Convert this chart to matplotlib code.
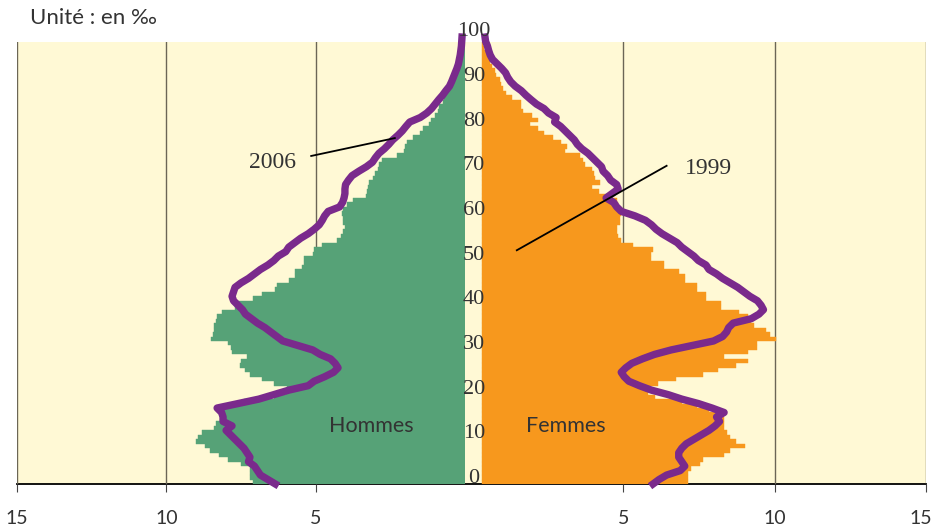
import matplotlib
matplotlib.use('Agg')
import matplotlib.pyplot as plt
import matplotlib.transforms as mtransforms
import numpy as np

# ── Palette ───────────────────────────────────────────────────────────────
C_BG     = '#fff9d5'
C_MEN    = '#56a277'
C_WOMEN  = '#f7981d'
C_1999   = '#7a2a8c'
C_GRID   = '#6b6656'
C_TEXT   = '#333333'

SANS  = ['Lato', 'DejaVu Sans']
SERIF = ['Liberation Serif', 'DejaVu Serif']

# ── Data: pyramide des âges, en ‰ de la population ────────────────────────
ages_bar  = np.arange(100)        # classes d'âge des barres (2006)
ages_line = np.arange(101)        # points des courbes (1999)
age_ticks = [0, 10, 20, 30, 40, 50, 60, 70, 80, 90, 100]
x_ticks_men   = [15, 10, 5]
x_ticks_women = [5, 10, 15]

men_2006 = [
    7.1, 7.2, 7.2, 7.2, 7.5, 7.95, 8.25, 8.55, 8.7, 9.0,
    8.95, 8.8, 8.4, 8.35, 8.2, 8.2, 8.2, 8.1, 7.4, 6.4,
    6.0, 5.95, 6.4, 6.8, 7.2, 7.35, 7.55, 7.5, 7.3, 7.8,
    7.85, 7.95, 8.5, 8.45, 8.4, 8.4, 8.35, 8.3, 8.15, 7.7,
    7.6, 7.1, 6.8, 6.35, 6.3, 5.9, 5.7, 5.7, 5.45, 5.4,
    5.4, 5.1, 5.05, 4.8, 4.3, 4.15, 4.1, 4.02, 4.07, 4.07,
    4.13, 4.1, 3.96, 3.74, 3.3, 3.28, 3.24, 3.22, 3.07, 3.0,
    2.9, 2.88, 2.79, 2.29, 2.05, 2.0, 1.95, 1.75, 1.5, 1.42,
    1.2, 1.15, 1.0, 0.9, 0.87, 0.75, 0.7, 0.6, 0.52, 0.48,
    0.38, 0.33, 0.25, 0.22, 0.15, 0.11, 0.06, 0.04, 0.02, 0.01,
]

women_2006 = [
    6.8, 6.8, 6.8, 6.9, 7.2, 7.3, 8.0, 8.2, 8.7, 8.4,
    8.2, 8.1, 8.0, 8.0, 8.0, 7.8, 7.5, 7.1, 6.6, 5.7,
    5.5, 5.5, 5.8, 6.4, 7.3, 7.8, 8.4, 8.8, 8.0, 8.8,
    9.1, 9.1, 9.7, 9.5, 9.4, 9.0, 8.9, 8.8, 8.5, 7.9,
    7.9, 7.4, 7.4, 7.1, 7.1, 6.7, 6.7, 6.5, 6.0, 6.0,
    5.6, 5.6, 5.65, 5.0, 4.6, 4.5, 4.45, 4.45, 4.55, 4.55,
    4.6, 4.6, 4.5, 4.45, 4.2, 3.85, 3.65, 3.9, 3.75, 3.7,
    3.62, 3.4, 3.35, 3.24, 2.75, 2.8, 2.6, 2.35, 2.05, 1.85,
    1.6, 1.86, 1.65, 1.35, 1.3, 1.3, 0.98, 0.8, 0.68, 0.63,
    0.58, 0.45, 0.42, 0.32, 0.27, 0.24, 0.15, 0.05, 0.02, 0.01,
]

men_1999 = [
    6.35, 6.6, 6.85, 6.95, 7.05, 7.25, 7.2, 7.3, 7.4, 7.55,
    7.7, 7.85, 8.0, 7.8, 8.1, 8.1, 8.15, 8.3, 7.6, 6.9,
    6.4, 5.9, 5.25, 5.05, 4.7, 4.4, 4.25, 4.35, 4.5, 4.85,
    5.1, 5.6, 6.1, 6.3, 6.5, 6.7, 6.95, 7.15, 7.35, 7.45,
    7.6, 7.75, 7.8, 7.75, 7.7, 7.5, 7.25, 7.05, 6.85, 6.6,
    6.4, 6.25, 6.0, 5.9, 5.7, 5.5, 5.25, 5.05, 4.88, 4.78,
    4.7, 4.58, 4.2, 4.1, 4.05, 4.02, 4.02, 4.0, 3.9, 3.78,
    3.55, 3.3, 3.1, 3.0, 2.88, 2.7, 2.55, 2.42, 2.25, 2.1,
    1.98, 1.85, 1.5, 1.28, 1.12, 1.0, 0.88, 0.75, 0.64, 0.52,
    0.45, 0.39, 0.33, 0.27, 0.22, 0.19, 0.16, 0.14, 0.12, 0.11, 0.1,
]

women_1999 = [
    5.65, 5.85, 6.1, 6.55, 6.7, 6.6, 6.5, 6.5, 6.6, 6.75,
    7.0, 7.25, 7.5, 7.7, 7.85, 7.75, 8.0, 7.6, 7.15, 6.6,
    6.15, 5.6, 5.2, 4.85, 4.7, 4.6, 4.75, 4.95, 5.3, 5.7,
    6.25, 6.95, 7.65, 7.95, 8.08, 8.15, 8.3, 8.9, 9.15, 9.3,
    9.22, 9.1, 8.85, 8.65, 8.45, 8.2, 7.95, 7.75, 7.5, 7.4,
    7.15, 7.0, 6.8, 6.6, 6.45, 6.2, 5.95, 5.75, 5.6, 5.4,
    5.05, 4.6, 4.45, 4.35, 4.1, 4.3, 4.5, 4.45, 4.25, 4.15,
    4.0, 3.95, 3.8, 3.65, 3.5, 3.3, 3.15, 3.05, 2.9, 2.75,
    2.6, 2.4, 2.45, 2.2, 2.05, 1.8, 1.62, 1.45, 1.3, 1.1,
    0.95, 0.85, 0.78, 0.65, 0.5, 0.35, 0.27, 0.22, 0.18, 0.12, 0.1,
]

# ── Layout (pixel positions of the original 932x532 chart) ────────────────
W, H = 932, 532
GAP = 0.33                 # women's bars start a little right of the 0 line
Y_TOP = 98.9

fig = plt.figure(figsize=(W / 100, H / 100), dpi=100)
bottom, height = 48 / H, 442 / H

bg = fig.add_axes([17 / W, bottom, 909 / W, height])
bg.set_facecolor(C_BG)
bg.set_xticks([]); bg.set_yticks([])
for s in ['top', 'left', 'right']:
    bg.spines[s].set_visible(False)
bg.spines['bottom'].set_color('black')
bg.spines['bottom'].set_linewidth(1.3)

ax_m = fig.add_axes([17 / W, bottom, 448 / W, height])
ax_f = fig.add_axes([472 / W, bottom, 454 / W, height])

for ax, ticks in [(ax_m, x_ticks_men), (ax_f, x_ticks_women)]:
    ax.patch.set_alpha(0)
    for s in ax.spines.values():
        s.set_visible(False)
    ax.set_ylim(0, Y_TOP)
    ax.set_yticks([])
    ax.set_xticks(ticks)
    ax.set_xticklabels([str(t) for t in ticks], fontfamily=SANS, fontsize=14, color=C_TEXT)
    ax.tick_params(axis='x', direction='out', length=6, width=0.8, color='#444444', pad=13)
    for t in ticks:
        ax.axvline(t, color=C_GRID, lw=1.0, zorder=0)

ax_m.set_xlim(15, 0)
ax_f.set_xlim(0, 15)
# keep the outer "15" labels inside the picture
ax_m.get_xticklabels()[0].set_horizontalalignment('left')
ax_m.get_xticklabels()[0].set_x(15)
ax_f.get_xticklabels()[-1].set_horizontalalignment('right')
ax_m.get_xticklabels()[0].set_transform(ax_m.get_xticklabels()[0].get_transform()
                                        + mtransforms.ScaledTranslation(-12 / 100, 0, fig.dpi_scale_trans))
ax_f.get_xticklabels()[-1].set_transform(ax_f.get_xticklabels()[-1].get_transform()
                                         + mtransforms.ScaledTranslation(6 / 100, 0, fig.dpi_scale_trans))

# bars 2006
ax_m.barh(ages_bar, men_2006, height=1.0, left=0, align='edge',
          color=C_MEN, edgecolor=C_MEN, lw=0.3, zorder=2)
ax_f.barh(ages_bar, women_2006, height=1.0, left=GAP, align='edge',
          color=C_WOMEN, edgecolor=C_WOMEN, lw=0.3, zorder=2)

# lines 1999
ax_m.plot(men_1999, ages_line, color=C_1999, lw=5.3, clip_on=False, zorder=4)
ax_f.plot(np.array(women_1999) + GAP, ages_line, color=C_1999, lw=5.3, clip_on=False, zorder=4)

# age labels in the central strip
tr = mtransforms.blended_transform_factory(fig.transFigure, ax_m.transData)
for a in age_ticks:
    fig.text(474 / W, a + 1.2, str(a), transform=tr, ha='center', va='center',
             fontfamily=SERIF, fontsize=16, color=C_TEXT, zorder=5)

# annotations
ax_m.plot([5.15, 2.35], [73.4, 77.4], color='black', lw=1.3, zorder=5, clip_on=False)
ax_m.text(6.45, 72.0, '2006', ha='center', va='center', fontfamily=SERIF,
          fontsize=17, color=C_TEXT, zorder=5)
ax_f.plot([1.48, 6.43], [52.3, 71.2], color='black', lw=1.3, zorder=5, clip_on=False)
ax_f.text(7.8, 70.6, '1999', ha='center', va='center', fontfamily=SERIF,
          fontsize=17, color=C_TEXT, zorder=5)

ax_m.text(3.15, 13.0, 'Hommes', ha='center', va='center', fontfamily=SANS,
          fontsize=15.5, color=C_TEXT, zorder=5)
ax_f.text(3.11, 13.0, 'Femmes', ha='center', va='center', fontfamily=SANS,
          fontsize=15.5, color=C_TEXT, zorder=5)

fig.text(30 / W, 1 - 18 / H, 'Unité : en ‰', ha='left', va='center',
         fontfamily=SANS, fontsize=16, color=C_TEXT)

fig.savefig('out.png', dpi=100)
